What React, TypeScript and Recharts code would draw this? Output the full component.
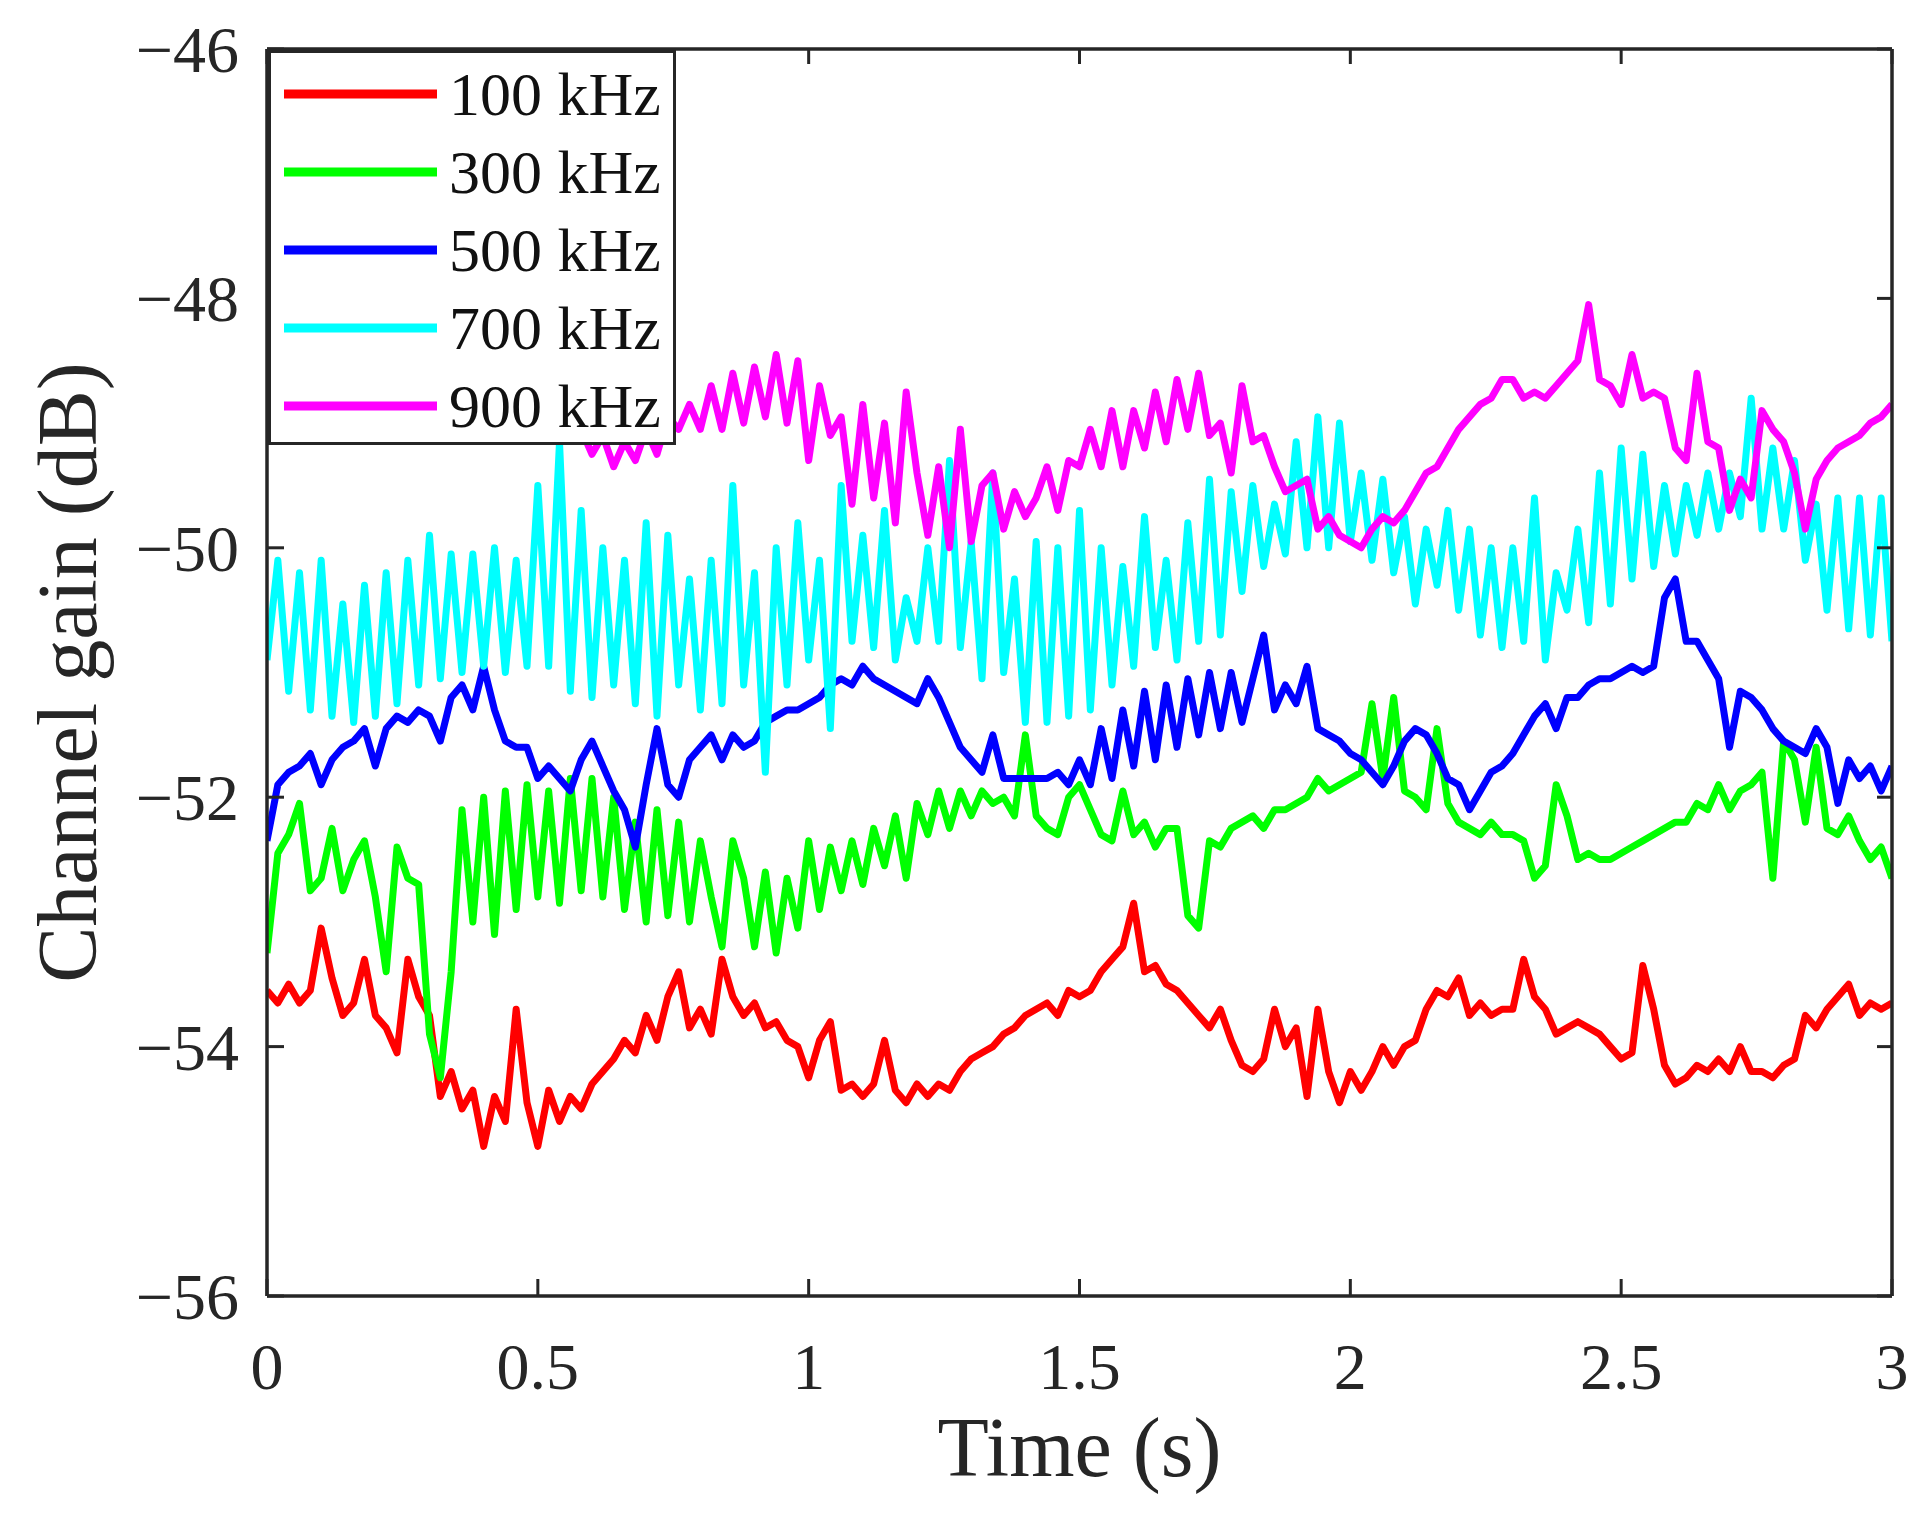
import React from "react";
import { LineChart, Line, XAxis, YAxis, Legend } from "recharts";

// ---------- data ----------
const TIME_STEP = 0.02;
const N_POINTS = 151;
const TIME: number[] = Array.from({ length: N_POINTS }, (_, i) => +(i * TIME_STEP).toFixed(2));

const X_TICKS = [0, 0.5, 1, 1.5, 2, 2.5, 3];
const Y_TICKS = [-56, -54, -52, -50, -48, -46];

const SERIES_LABELS = ["100 kHz", "300 kHz", "500 kHz", "700 kHz", "900 kHz"];
const SERIES_KEYS = ["f100", "f300", "f500", "f700", "f900"];
const SERIES_COLORS = ["#FF0000", "#00FF00", "#0000FF", "#00FFFF", "#FF00FF"];

const GAIN_100K = [
  -53.55, -53.65, -53.5, -53.65, -53.55, -53.05, -53.45, -53.75, -53.65, -53.3,
  -53.75, -53.85, -54.05, -53.3, -53.6, -53.75, -54.4, -54.2, -54.5, -54.35,
  -54.8, -54.4, -54.6, -53.7, -54.45, -54.8, -54.35, -54.6, -54.4, -54.5,
  -54.3, -54.2, -54.1, -53.95, -54.05, -53.75, -53.95, -53.6, -53.4, -53.85,
  -53.7, -53.9, -53.3, -53.6, -53.75, -53.65, -53.85, -53.8, -53.95, -54.0,
  -54.25, -53.95, -53.8, -54.35, -54.3, -54.4, -54.3, -53.95, -54.35, -54.45,
  -54.3, -54.4, -54.3, -54.35, -54.2, -54.1, -54.05, -54.0, -53.9, -53.85,
  -53.75, -53.7, -53.65, -53.75, -53.55, -53.6, -53.55, -53.4, -53.3, -53.2,
  -52.85, -53.4, -53.35, -53.5, -53.55, -53.65, -53.75, -53.85, -53.7, -53.95,
  -54.15, -54.2, -54.1, -53.7, -54.0, -53.85, -54.4, -53.7, -54.2, -54.45,
  -54.2, -54.35, -54.2, -54.0, -54.15, -54.0, -53.95, -53.7, -53.55, -53.6,
  -53.45, -53.75, -53.65, -53.75, -53.7, -53.7, -53.3, -53.6, -53.7, -53.9,
  -53.85, -53.8, -53.85, -53.9, -54.0, -54.1, -54.05, -53.35, -53.7, -54.15,
  -54.3, -54.25, -54.15, -54.2, -54.1, -54.2, -54.0, -54.2, -54.2, -54.25,
  -54.15, -54.1, -53.75, -53.85, -53.7, -53.6, -53.5, -53.75, -53.65, -53.7,
  -53.65,
];

const GAIN_300K = [
  -53.25, -52.45, -52.3, -52.05, -52.75, -52.65, -52.25, -52.75, -52.5, -52.35,
  -52.8, -53.4, -52.4, -52.65, -52.7, -53.9, -54.25, -53.4, -52.1, -53.0,
  -52.0, -53.1, -51.95, -52.9, -51.9, -52.8, -51.95, -52.85, -51.85, -52.75,
  -51.85, -52.8, -52.0, -52.9, -52.2, -53.0, -52.1, -52.95, -52.2, -53.0,
  -52.35, -52.8, -53.2, -52.35, -52.65, -53.2, -52.6, -53.25, -52.65, -53.05,
  -52.35, -52.9, -52.4, -52.75, -52.35, -52.7, -52.25, -52.55, -52.15, -52.65,
  -52.05, -52.3, -51.95, -52.25, -51.95, -52.15, -51.95, -52.05, -52.0, -52.15,
  -51.5, -52.15, -52.25, -52.3, -52.0, -51.9, -52.1, -52.3, -52.35, -51.95,
  -52.3, -52.2, -52.4, -52.25, -52.25, -52.95, -53.05, -52.35, -52.4, -52.25,
  -52.2, -52.15, -52.25, -52.1, -52.1, -52.05, -52.0, -51.85, -51.95, -51.9,
  -51.85, -51.8, -51.25, -51.85, -51.2, -51.95, -52.0, -52.1, -51.45, -52.05,
  -52.2, -52.25, -52.3, -52.2, -52.3, -52.3, -52.35, -52.65, -52.55, -51.9,
  -52.15, -52.5, -52.45, -52.5, -52.5, -52.45, -52.4, -52.35, -52.3, -52.25,
  -52.2, -52.2, -52.05, -52.1, -51.9, -52.1, -51.95, -51.9, -51.8, -52.65,
  -51.55, -51.7, -52.2, -51.6, -52.25, -52.3, -52.15, -52.35, -52.5, -52.4,
  -52.65,
];

const GAIN_500K = [
  -52.35, -51.9, -51.8, -51.75, -51.65, -51.9, -51.7, -51.6, -51.55, -51.45,
  -51.75, -51.45, -51.35, -51.4, -51.3, -51.35, -51.55, -51.2, -51.1, -51.3,
  -50.95, -51.3, -51.55, -51.6, -51.6, -51.85, -51.75, -51.85, -51.95, -51.7,
  -51.55, -51.75, -51.95, -52.1, -52.4, -51.9, -51.45, -51.9, -52.0, -51.7,
  -51.6, -51.5, -51.7, -51.5, -51.6, -51.55, -51.4, -51.35, -51.3, -51.3,
  -51.25, -51.2, -51.1, -51.05, -51.1, -50.95, -51.05, -51.1, -51.15, -51.2,
  -51.25, -51.05, -51.2, -51.4, -51.6, -51.7, -51.8, -51.5, -51.85, -51.85,
  -51.85, -51.85, -51.85, -51.8, -51.9, -51.7, -51.9, -51.45, -51.85, -51.3,
  -51.75, -51.15, -51.7, -51.1, -51.6, -51.05, -51.5, -51.0, -51.45, -51.0,
  -51.4, -51.05, -50.7, -51.3, -51.1, -51.25, -50.95, -51.45, -51.5, -51.55,
  -51.65, -51.7, -51.8, -51.9, -51.75, -51.55, -51.45, -51.5, -51.65, -51.85,
  -51.9, -52.1, -51.95, -51.8, -51.75, -51.65, -51.5, -51.35, -51.25, -51.45,
  -51.2, -51.2, -51.1, -51.05, -51.05, -51.0, -50.95, -51.0, -50.95, -50.4,
  -50.25, -50.75, -50.75, -50.9, -51.05, -51.6, -51.15, -51.2, -51.3, -51.45,
  -51.55, -51.6, -51.65, -51.45, -51.6, -52.05, -51.7, -51.85, -51.75, -51.95,
  -51.75,
];

const GAIN_700K = [
  -50.9, -50.1, -51.15, -50.2, -51.3, -50.1, -51.35, -50.45, -51.4, -50.3,
  -51.35, -50.2, -51.25, -50.1, -51.1, -49.9, -51.05, -50.05, -51.0, -50.05,
  -50.95, -50.0, -51.0, -50.1, -50.95, -49.5, -50.95, -49.15, -51.15, -49.7,
  -51.2, -50.0, -51.1, -50.1, -51.25, -49.8, -51.35, -49.9, -51.1, -50.25,
  -51.3, -50.1, -51.25, -49.5, -51.1, -50.2, -51.8, -50.0, -51.1, -49.8,
  -50.9, -50.1, -51.45, -49.5, -50.75, -49.9, -50.8, -49.7, -50.9, -50.4,
  -50.75, -50.0, -50.75, -49.3, -50.8, -49.95, -51.05, -49.4, -51.0, -50.25,
  -51.4, -49.95, -51.4, -50.0, -51.35, -49.7, -51.3, -50.0, -51.1, -50.15,
  -50.95, -49.75, -50.8, -50.1, -50.9, -49.8, -50.75, -49.45, -50.7, -49.55,
  -50.35, -49.5, -50.15, -49.65, -50.05, -49.15, -50.0, -48.95, -50.0, -49.0,
  -49.95, -49.4, -50.1, -49.45, -50.2, -49.75, -50.45, -49.85, -50.3, -49.7,
  -50.5, -49.85, -50.7, -50.0, -50.8, -50.0, -50.75, -49.6, -50.9, -50.2,
  -50.5, -49.85, -50.6, -49.4, -50.45, -49.2, -50.25, -49.25, -50.15, -49.5,
  -50.05, -49.5, -49.9, -49.4, -49.85, -49.4, -49.75, -48.8, -49.85, -49.2,
  -49.85, -49.3, -50.1, -49.65, -50.5, -49.6, -50.65, -49.6, -50.7, -49.6,
  -50.75,
];

const GAIN_900K = [
  -47.3, -48.4, -48.6, -48.8, -48.7, -48.9, -48.75, -48.95, -48.8, -48.9,
  -48.7, -48.9, -48.8, -48.95, -48.75, -48.9, -48.8, -49.0, -48.85, -48.95,
  -48.8, -49.0, -48.85, -49.0, -48.9, -49.05, -48.9, -49.05, -48.95, -49.05,
  -49.25, -49.1, -49.35, -49.15, -49.3, -49.05, -49.25, -48.95, -49.05, -48.85,
  -49.05, -48.7, -49.05, -48.6, -49.0, -48.55, -48.95, -48.45, -49.0, -48.5,
  -49.3, -48.7, -49.1, -48.95, -49.65, -48.85, -49.6, -49.0, -49.8, -48.75,
  -49.4, -49.9, -49.35, -50.0, -49.05, -49.95, -49.5, -49.4, -49.85, -49.55,
  -49.75, -49.6, -49.35, -49.7, -49.3, -49.35, -49.05, -49.35, -48.9, -49.35,
  -48.9, -49.2, -48.75, -49.15, -48.65, -49.05, -48.6, -49.1, -49.0, -49.4,
  -48.7, -49.15, -49.1, -49.35, -49.55, -49.5, -49.45, -49.85, -49.75, -49.9,
  -49.95, -50.0, -49.85, -49.75, -49.8, -49.7, -49.55, -49.4, -49.35, -49.2,
  -49.05, -48.95, -48.85, -48.8, -48.65, -48.65, -48.8, -48.75, -48.8, -48.7,
  -48.6, -48.5, -48.05, -48.65, -48.7, -48.85, -48.45, -48.8, -48.75, -48.8,
  -49.2, -49.3, -48.6, -49.15, -49.2, -49.7, -49.45, -49.6, -48.9, -49.05,
  -49.15, -49.4, -49.85, -49.45, -49.3, -49.2, -49.15, -49.1, -49.0, -48.95,
  -48.85,
];

const SERIES_VALUES = [GAIN_100K, GAIN_300K, GAIN_500K, GAIN_700K, GAIN_900K];

const DATA = TIME.map((t, i) => {
  const row: Record<string, number> = { t };
  SERIES_KEYS.forEach((k, s) => {
    row[k] = SERIES_VALUES[s][i];
  });
  return row;
});

// ---------- style ----------
const W = 1930;
const H = 1513;
const AXIS = "#262626";
const FONT = "Liberation Serif";
const TICK_FONT = 66;
const LABEL_FONT = 84;
const LEGEND_FONT = 62;

const fmtY = (v: number) => (v < 0 ? "\u2212" + Math.abs(v) : String(v));
const fmtX = (v: number) => String(v);

const LeftTick = (props: any) => {
  const { x, y, payload } = props;
  return (
    <g>
      <line x1={x} y1={y} x2={x + 17} y2={y} stroke={AXIS} strokeWidth={3} />
      <text x={x - 28} y={y} dy={23} textAnchor="end" style={{ fontFamily: FONT, fontSize: TICK_FONT }} fill={AXIS}>
        {fmtY(payload.value)}
      </text>
    </g>
  );
};

const RightTick = (props: any) => {
  const { x, y } = props;
  return <line x1={x} y1={y} x2={x - 15} y2={y} stroke={AXIS} strokeWidth={3} />;
};

const BottomTick = (props: any) => {
  const { x, y, payload } = props;
  return (
    <g>
      <line x1={x} y1={y} x2={x} y2={y - 17} stroke={AXIS} strokeWidth={3} />
      <text x={x} y={y + 93} textAnchor="middle" style={{ fontFamily: FONT, fontSize: TICK_FONT }} fill={AXIS}>
        {fmtX(payload.value)}
      </text>
    </g>
  );
};

const TopTick = (props: any) => {
  const { x, y } = props;
  return <line x1={x} y1={y} x2={x} y2={y + 15} stroke={AXIS} strokeWidth={3} />;
};

const LegendBox = () => {
  const rowPitch = 78;
  const firstRow = 41;
  return (
    <div
      style={{
        width: 402,
        height: 389,
        border: `3px solid ${AXIS}`,
        background: "#ffffff",
      }}
    >
      <svg width={402} height={389} style={{ display: "block" }}>
        {SERIES_LABELS.map((lab, i) => {
          const cy = firstRow + i * rowPitch;
          return (
            <g key={lab}>
              <line x1={13} y1={cy} x2={166} y2={cy} stroke={SERIES_COLORS[i]} strokeWidth={9} />
              <text x={178} y={cy + 21} style={{ fontFamily: FONT, fontSize: LEGEND_FONT }} fill="#111">
                {lab}
              </text>
            </g>
          );
        })}
      </svg>
    </div>
  );
};

const YLabel = (props: any) => {
  const { viewBox } = props;
  const cx = viewBox.x + viewBox.width - 199;
  const cy = viewBox.y + viewBox.height / 2;
  return (
    <text
      x={cx}
      y={cy}
      dy={28}
      transform={`rotate(-90 ${cx} ${cy})`}
      textAnchor="middle"
      style={{ fontFamily: FONT, fontSize: LABEL_FONT }}
      fill={AXIS}
    >
      Channel gain (dB)
    </text>
  );
};

const XLabel = (props: any) => {
  const { viewBox } = props;
  const cx = viewBox.x + viewBox.width / 2;
  return (
    <text x={cx} y={viewBox.y + 180} textAnchor="middle" style={{ fontFamily: FONT, fontSize: LABEL_FONT }} fill={AXIS}>
      Time (s)
    </text>
  );
};

export default function App() {
  return (
    <div style={{ position: "absolute", left: 0, top: 0, width: W, height: H, background: "#fff", fontFamily: FONT }}>
      <LineChart
        width={W}
        height={H}
        data={DATA}
        margin={{ top: 39, right: 28, bottom: 117, left: 167 }}
        style={{ fontFamily: FONT }}
      >
        <XAxis
          xAxisId="bottom"
          dataKey="t"
          type="number"
          domain={[0, 3]}
          ticks={X_TICKS}
          allowDataOverflow
          height={100}
          axisLine={{ stroke: AXIS, strokeWidth: 3.5 }}
          tickLine={false}
          tickSize={0}
          tickMargin={0}
          tick={<BottomTick />}
          interval={0}
          label={<XLabel />}
        />
        <XAxis
          xAxisId="top"
          orientation="top"
          dataKey="t"
          type="number"
          domain={[0, 3]}
          ticks={X_TICKS}
          allowDataOverflow
          height={10}
          axisLine={{ stroke: AXIS, strokeWidth: 3.5 }}
          tickLine={false}
          tickSize={0}
          tickMargin={0}
          tick={<TopTick />}
          interval={0}
        />
        <YAxis
          yAxisId="left"
          type="number"
          domain={[-56, -46]}
          ticks={Y_TICKS}
          allowDataOverflow
          width={100}
          axisLine={{ stroke: AXIS, strokeWidth: 3.5 }}
          tickLine={false}
          tickSize={0}
          tickMargin={0}
          tick={<LeftTick />}
          interval={0}
          label={<YLabel />}
        />
        <YAxis
          yAxisId="right"
          orientation="right"
          type="number"
          domain={[-56, -46]}
          ticks={Y_TICKS}
          allowDataOverflow
          width={10}
          axisLine={{ stroke: AXIS, strokeWidth: 3.5 }}
          tickLine={false}
          tickSize={0}
          tickMargin={0}
          tick={<RightTick />}
          interval={0}
        />
        {SERIES_KEYS.map((k, i) => (
          <Line
            key={k}
            xAxisId="bottom"
            yAxisId="left"
            type="linear"
            dataKey={k}
            name={SERIES_LABELS[i]}
            stroke={SERIES_COLORS[i]}
            strokeWidth={7}
            strokeLinejoin="round"
            dot={false}
            activeDot={false}
            isAnimationActive={false}
          />
        ))}
        <Legend
          layout="horizontal"
          verticalAlign="middle"
          align="center"
          content={() => <LegendBox />}
          wrapperStyle={{ left: 268, top: 50, width: 408, height: 395, margin: 0, padding: 0 }}
        />
      </LineChart>
    </div>
  );
}
